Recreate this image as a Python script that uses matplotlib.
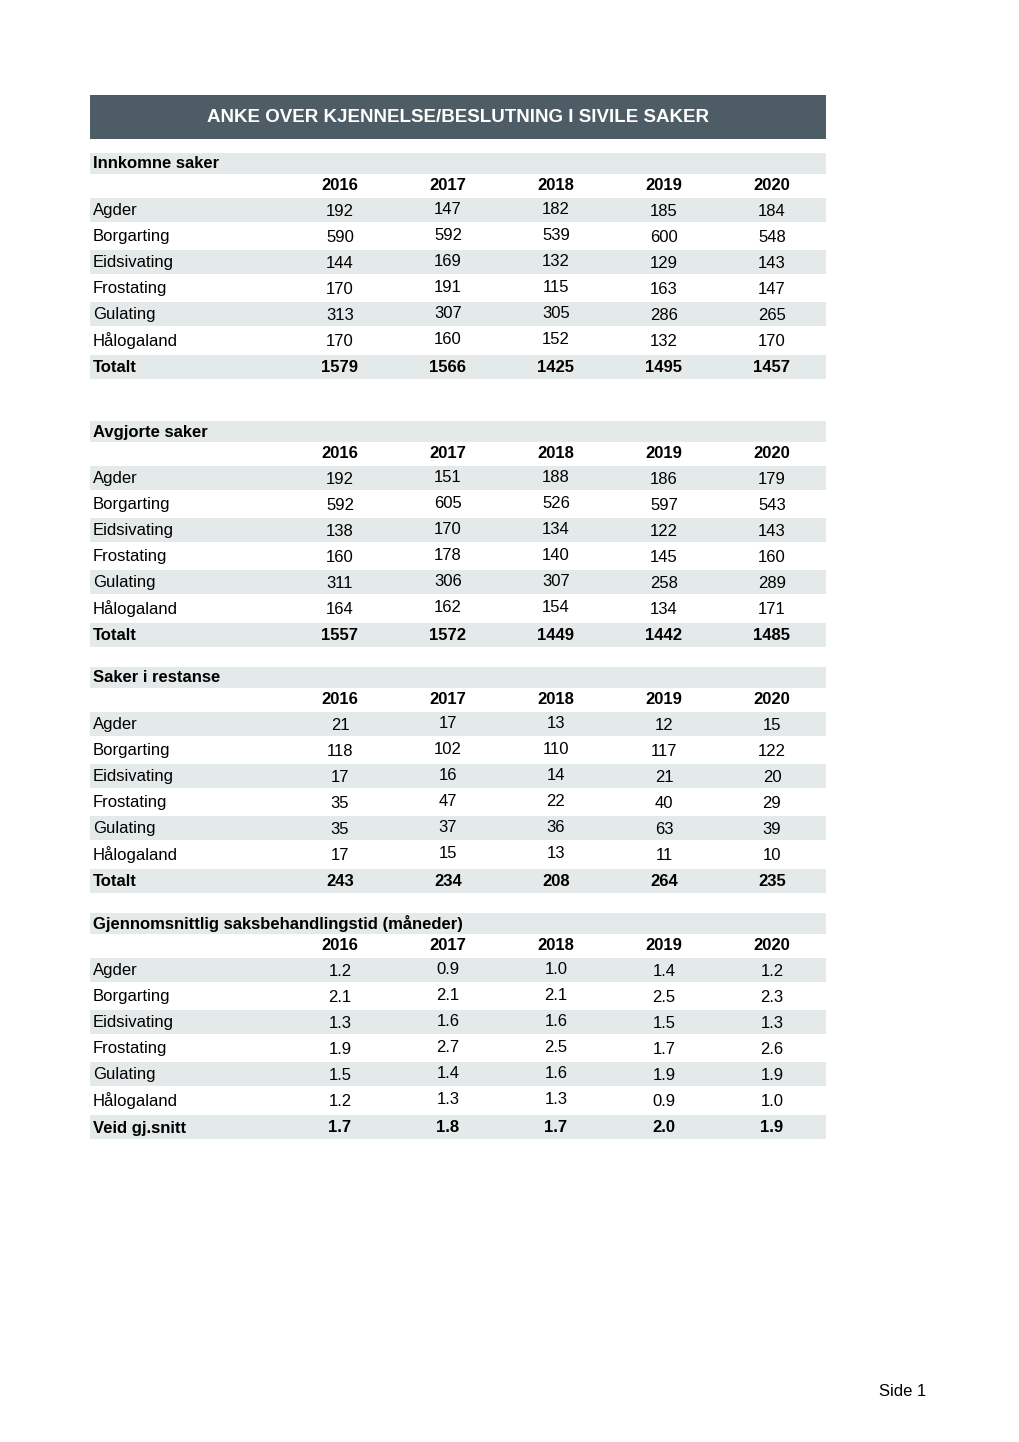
import matplotlib.pyplot as plt
from matplotlib.patches import Rectangle

plt.rcParams['font.family'] = ['Liberation Sans', 'DejaVu Sans']

title = 'ANKE OVER KJENNELSE/BESLUTNING I SIVILE SAKER'
years = ['2016', '2017', '2018', '2019', '2020']
courts = ['Agder', 'Borgarting', 'Eidsivating', 'Frostating', 'Gulating', 'Hålogaland']

innkomne = [
    [192, 147, 182, 185, 184],
    [590, 592, 539, 600, 548],
    [144, 169, 132, 129, 143],
    [170, 191, 115, 163, 147],
    [313, 307, 305, 286, 265],
    [170, 160, 152, 132, 170],
]
innkomne_tot = [1579, 1566, 1425, 1495, 1457]

avgjorte = [
    [192, 151, 188, 186, 179],
    [592, 605, 526, 597, 543],
    [138, 170, 134, 122, 143],
    [160, 178, 140, 145, 160],
    [311, 306, 307, 258, 289],
    [164, 162, 154, 134, 171],
]
avgjorte_tot = [1557, 1572, 1449, 1442, 1485]

restanse = [
    [21, 17, 13, 12, 15],
    [118, 102, 110, 117, 122],
    [17, 16, 14, 21, 20],
    [35, 47, 22, 40, 29],
    [35, 37, 36, 63, 39],
    [17, 15, 13, 11, 10],
]
restanse_tot = [243, 234, 208, 264, 235]

tid = [
    [1.2, 0.9, 1.0, 1.4, 1.2],
    [2.1, 2.1, 2.1, 2.5, 2.3],
    [1.3, 1.6, 1.6, 1.5, 1.3],
    [1.9, 2.7, 2.5, 1.7, 2.6],
    [1.5, 1.4, 1.6, 1.9, 1.9],
    [1.2, 1.3, 1.3, 0.9, 1.0],
]
tid_tot = [1.7, 1.8, 1.7, 2.0, 1.9]

sections = [
    ('Innkomne saker', innkomne, innkomne_tot, 'Totalt', '{:d}', 163),
    ('Avgjorte saker', avgjorte, avgjorte_tot, 'Totalt', '{:d}', 431),
    ('Saker i restanse', restanse, restanse_tot, 'Totalt', '{:d}', 677),
    ('Gjennomsnittlig saksbehandlingstid (måneder)', tid, tid_tot,
     'Veid gj.snitt', '{:.1f}', 923),
]

W, H = 1020, 1442
band = '#e4eaea'
dark = '#4d5c65'
x0, x1 = 90, 826
col_x = [340, 448, 556, 664, 772]
col_dy = [0, -2, -2, 0, 0]
fs = 12

fig = plt.figure(figsize=(W / 100, H / 100), dpi=100)
ax = fig.add_axes([0, 0, 1, 1])
ax.set_xlim(0, W)
ax.set_ylim(H, 0)
ax.axis('off')


def band_row(yc, h=24):
    ax.add_patch(Rectangle((x0, yc - h / 2), x1 - x0, h, color=band, lw=0, zorder=0))


# header
ax.add_patch(Rectangle((x0, 95), x1 - x0, 44, color=dark, lw=0))
ax.text((x0 + x1) / 2, 117, title, color='white', fontsize=13.5,
        fontweight='bold', ha='center', va='center')

for name, rows, tot, totname, fmt, ytop in sections:
    band_row(ytop, 21)
    ax.text(x0 + 3, ytop + 1, name, fontsize=fs, fontweight='bold', va='center')
    yy = ytop + 22
    for cx, yr in zip(col_x, years):
        ax.text(cx, yy, yr, fontsize=fs, fontweight='bold', ha='center', va='center')
    for i, (court, vals) in enumerate(zip(courts, rows)):
        yc = ytop + 47 + i * 26
        if i % 2 == 0:
            band_row(yc)
        ax.text(x0 + 3, yc + 1, court, fontsize=fs, va='center')
        for cx, dy, v in zip(col_x, col_dy, vals):
            ax.text(cx, yc + dy + 1, fmt.format(v), fontsize=fs, ha='center', va='center')
    yc = ytop + 47 + 6 * 26 + 1
    band_row(yc)
    ax.text(x0 + 3, yc + 1, totname, fontsize=fs, fontweight='bold', va='center')
    for cx, v in zip(col_x, tot):
        ax.text(cx, yc + 1, fmt.format(v), fontsize=fs, fontweight='bold',
                ha='center', va='center')

ax.text(926, 1391, 'Side 1', fontsize=fs, ha='right', va='center')

fig.savefig('out.png', dpi=100)
